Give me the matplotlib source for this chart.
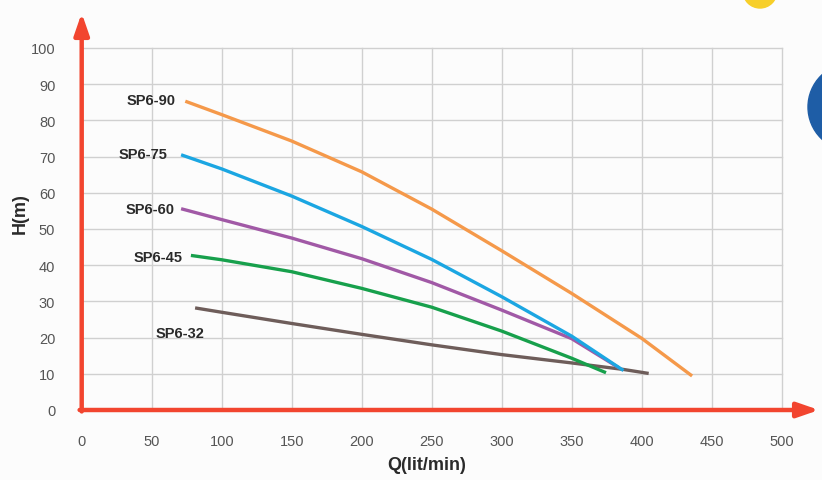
import matplotlib
matplotlib.use("Agg")
import matplotlib.pyplot as plt
from matplotlib import font_manager
from matplotlib.patches import Ellipse

names = {f.name for f in font_manager.fontManager.ttflist}
NARROW = "Liberation Sans Narrow" if "Liberation Sans Narrow" in names else "Liberation Sans"
BOLD = "Liberation Sans"

# ---------------- data ----------------
x_ticks = [0, 50, 100, 150, 200, 250, 300, 350, 400, 450, 500]
y_ticks = [0, 10, 20, 30, 40, 50, 60, 70, 80, 90, 100]

sp90_q = [74, 100, 150, 200, 250, 300, 350, 400, 436]
sp90_h = [85.3, 81.6, 74.3, 65.8, 55.5, 44.0, 32.2, 19.8, 9.4]

sp75_q = [71, 100, 150, 200, 250, 300, 350, 387]
sp75_h = [70.5, 66.6, 59.1, 50.7, 41.6, 31.3, 20.4, 10.9]

sp60_q = [71, 100, 150, 200, 250, 300, 350, 384]
sp60_h = [55.6, 52.6, 47.5, 41.8, 35.2, 27.6, 19.7, 11.6]

sp45_q = [78, 100, 150, 200, 250, 300, 350, 374.5]
sp45_h = [42.7, 41.5, 38.2, 33.6, 28.4, 21.8, 14.3, 10.3]

sp32_q = [81, 100, 150, 200, 250, 300, 350, 387, 405]
sp32_h = [28.2, 27.0, 23.9, 20.9, 18.0, 15.3, 13.0, 11.2, 10.1]

series_names = ["SP6-90", "SP6-75", "SP6-60", "SP6-45", "SP6-32"]
label_pos = [(67, 85.5, "right"), (61.6, 70.6, "right"), (66.6, 55.6, "right"),
             (72.4, 42.2, "right"), (53, 21.4, "left")]
colors = ["#F5994A", "#1BA6E2", "#A159A6", "#17A04C", "#6E5D5A"]

# ---------------- figure ----------------
W, H = 822, 481
fig = plt.figure(figsize=(W / 100, H / 100), dpi=100, facecolor="#FCFCFC")
x0_px, x500_px = 81.7, 781.7
y0_px, y100_px = 411, 49
ax = fig.add_axes([x0_px / W, (H - y0_px) / H, (x500_px - x0_px) / W, (y0_px - y100_px) / H])
ax.set_facecolor("none")
ax.set_xlim(0, 500)
ax.set_ylim(0, 100)
ax.set_xticks(x_ticks)
ax.set_yticks(y_ticks)
ax.set_xticklabels([str(v) for v in x_ticks])
ax.set_yticklabels([str(v) for v in y_ticks])
ax.grid(True, color="#D0D0D0", lw=1.0, zorder=0)
for gl in ax.get_xgridlines() + ax.get_ygridlines():
    gl.set_clip_on(False)
for s in ax.spines.values():
    s.set_visible(False)
ax.tick_params(axis="both", length=0, labelcolor="#555555", labelsize=10.5)
ax.tick_params(axis="x", pad=17)
ax.tick_params(axis="y", pad=19)
for lab in ax.get_xticklabels() + ax.get_yticklabels():
    lab.set_fontfamily(NARROW)

# curves (purple drawn before blue so blue overlaps)
curves = [(sp90_q, sp90_h), (sp75_q, sp75_h), (sp60_q, sp60_h), (sp45_q, sp45_h), (sp32_q, sp32_h)]
order = [4, 3, 2, 1, 0]
for i in order:
    q, h = curves[i]
    ax.plot(q, h, color=colors[i], lw=2.4, solid_capstyle="butt", solid_joinstyle="round",
            zorder=3 + (1 if i == 1 else 0))

for name, (lx, ly, ha) in zip(series_names, label_pos):
    ax.text(lx, ly, name, ha=ha, va="center", fontsize=10.5, fontweight="bold",
            color="#2A2A2A", family=BOLD, zorder=5)

# red axes with arrows
red = "#F2452F"
ax.annotate("", xy=(0, (y0_px - 14) / (y0_px - y100_px)), xytext=(0, -0.004),
            xycoords="axes fraction", annotation_clip=False,
            arrowprops=dict(arrowstyle="-|>,head_length=1.3,head_width=0.45", lw=3.2,
                            color=red, shrinkA=0, shrinkB=0), zorder=6)
ax.annotate("", xy=((819 - x0_px) / (x500_px - x0_px), 0), xytext=(-0.003, 0),
            xycoords="axes fraction", annotation_clip=False,
            arrowprops=dict(arrowstyle="-|>,head_length=1.3,head_width=0.45", lw=3.2,
                            color=red, shrinkA=0, shrinkB=0), zorder=6)

# axis titles
fig.text(427 / W, 1 - 466 / H, "Q(lit/min)", ha="center", va="center", fontsize=13,
         fontweight="bold", color="#2A2A2A", family=BOLD)
fig.text(20 / W, 1 - 214 / H, "H(m)", ha="center", va="center", fontsize=13,
         fontweight="bold", color="#2A2A2A", family=BOLD, rotation=90)

# decorative logo fragments
fig.add_artist(Ellipse((760 / W, 1 + 8 / H), 34 / W, 34 / H, transform=fig.transFigure,
                       color="#F7CF2A", zorder=0))
fig.add_artist(Ellipse((852 / W, 1 - 108 / H), 88 / W, 88 / H, transform=fig.transFigure,
                       color="#1E5DA6", zorder=0))

fig.savefig("out.png", dpi=100, facecolor=fig.get_facecolor())
